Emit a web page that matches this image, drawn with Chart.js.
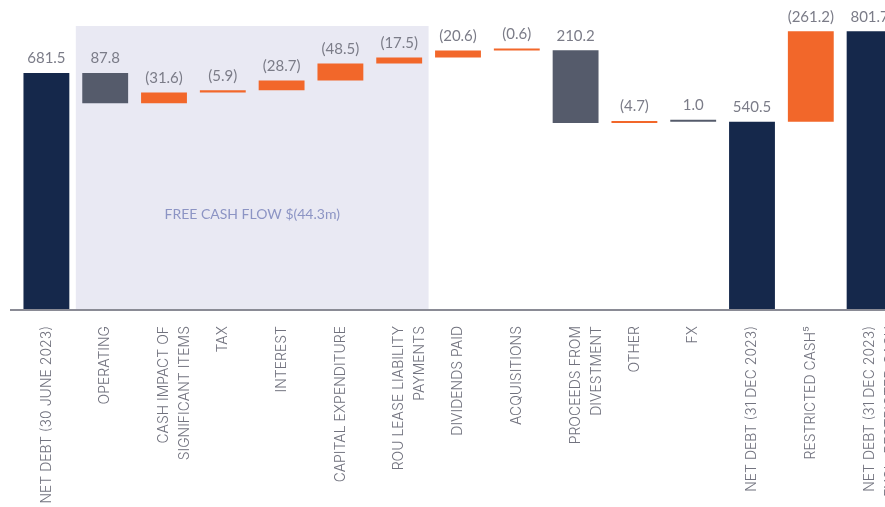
<!DOCTYPE html>
<html>
<head>
<meta charset="utf-8">
<script src="https://cdn.jsdelivr.net/npm/chart.js@4.4.1/dist/chart.umd.min.js"></script>
<style>
  html, body { margin: 0; padding: 0; background: #fff; overflow: hidden; }
  #chart { display: block; }
</style>
</head>
<body>
<canvas id="chart" width="899" height="507"></canvas>
<script>
// categories (x axis), multi-line where the original wraps
const categories = [
  "NET DEBT (30 JUNE 2023)",
  "OPERATING",
  ["CASH IMPACT OF", "SIGNIFICANT ITEMS"],
  "TAX",
  "INTEREST",
  "CAPITAL EXPENDITURE",
  ["ROU LEASE LIABILITY", "PAYMENTS"],
  "DIVIDENDS PAID",
  "ACQUISITIONS",
  ["PROCEEDS FROM", "DIVESTMENT"],
  "OTHER",
  "FX",
  "NET DEBT (31 DEC 2023)",
  "RESTRICTED CASH\u2075",
  ["NET DEBT (31 DEC 2023)", "EXCL. RESTRICTED CASH"],
];
// cash flow amounts; totals are net debt balances
const amounts = [681.5, 87.8, -31.6, -5.9, -28.7, -48.5, -17.5, -20.6, -0.6, 210.2, -4.7, 1.0, 540.5, -261.2, 801.7];
const kinds = ["total", "flow", "flow", "flow", "flow", "flow", "flow", "flow", "flow", "flow", "flow", "flow", "total", "flow", "total"];
const freeCashFlowRange = [1, 6];
const freeCashFlowText = "FREE CASH FLOW $(44.3m)";
const yMax = 817;

const NAVY = "#15284b";
const GREY = "#555b6b";
const ORANGE = "#f2672a";

// build floating bars: positive cash flow reduces debt, negative increases it
let debt = 0;
const bars = [];
const colors = [];
amounts.forEach((a, i) => {
  if (kinds[i] === "total") {
    debt = a;
    bars.push([0, a]);
    colors.push(NAVY);
  } else {
    const start = debt;
    debt = debt - a;
    bars.push([start, debt]);
    colors.push(a >= 0 ? GREY : ORANGE);
  }
});

function fmt(v) {
  const s = Math.abs(v).toFixed(1);
  return v < 0 ? `(${s})` : s;
}

const decorPlugin = {
  id: "decor",
  beforeDatasetsDraw(chart) {
    const { ctx, chartArea, scales } = chart;
    const x = scales.x;
    const step = x.getPixelForValue(1) - x.getPixelForValue(0);
    const left = x.getPixelForValue(freeCashFlowRange[0]) - step / 2;
    const right = x.getPixelForValue(freeCashFlowRange[1]) + step / 2;
    ctx.save();
    ctx.fillStyle = "#e9e9f3";
    ctx.fillRect(left, chartArea.top, right - left, chartArea.bottom - chartArea.top);
    ctx.fillStyle = "#8c94c4";
    ctx.font = "14px Lato";
    ctx.textAlign = "center";
    ctx.textBaseline = "middle";
    ctx.fillText(freeCashFlowText, (left + right) / 2, scales.y.getPixelForValue(274));
    ctx.restore();
  },
  afterDatasetsDraw(chart) {
    const { ctx, chartArea } = chart;
    const meta = chart.getDatasetMeta(0);
    ctx.save();
    ctx.strokeStyle = "#8a8b95";
    ctx.lineWidth = 2;
    ctx.beginPath();
    ctx.moveTo(chartArea.left - 7, chartArea.bottom + 1);
    ctx.lineTo(chartArea.right, chartArea.bottom + 1);
    ctx.stroke();
    ctx.fillStyle = "#7b7c88";
    ctx.font = "15px Lato";
    ctx.textAlign = "center";
    ctx.textBaseline = "bottom";
    meta.data.forEach((bar, i) => {
      const top = Math.min(bar.y, bar.base);
      ctx.fillText(fmt(amounts[i]), bar.x, top - 7);
    });
    ctx.restore();
  },
};

new Chart(document.getElementById("chart"), {
  type: "bar",
  data: {
    labels: categories,
    datasets: [{
      data: bars,
      backgroundColor: colors,
      barPercentage: 0.78,
      categoryPercentage: 1,
      minBarLength: 2,
      borderSkipped: false,
    }],
  },
  options: {
    responsive: false,
    animation: false,
    layout: { padding: { left: 17, right: 0, top: 26, bottom: 0 } },
    plugins: { legend: { display: false }, tooltip: { enabled: false } },
    scales: {
      x: {
        grid: { display: false },
        border: { display: false },
        ticks: {
          color: "#72737f",
          font: { family: "Inter", size: 14, weight: 300, lineHeight: 1.5 },
          minRotation: 90,
          maxRotation: 90,
          padding: 9,
          autoSkip: false,
        },
        afterFit(scale) {
          scale.height = 198;
          scale.paddingLeft = 0;
          scale.paddingRight = 0;
        },
      },
      y: {
        display: false,
        min: 0,
        max: yMax,
      },
    },
  },
  plugins: [decorPlugin],
});
</script>
</body>
</html>
